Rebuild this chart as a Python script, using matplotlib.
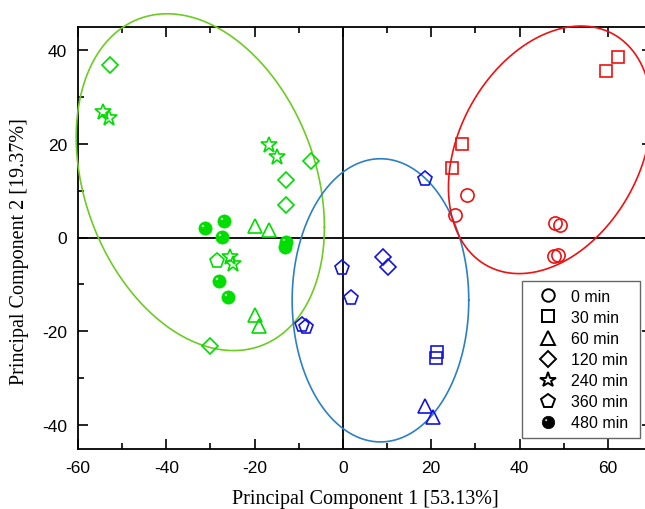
import numpy as np
import matplotlib
matplotlib.use("Agg")
import matplotlib.pyplot as plt
from matplotlib.path import Path
from matplotlib.lines import Line2D
from matplotlib.ticker import MultipleLocator

plt.rcParams['axes.unicode_minus'] = False

# ---------------- data ----------------
time_labels = ['0 min', '30 min', '60 min', '120 min', '240 min', '360 min', '480 min']

# red group
red_0_x = [28.0, 25.3, 48.0, 49.2, 47.7, 48.8]
red_0_y = [9.0, 4.7, 3.0, 2.6, -4.0, -3.8]
red_30_x = [62.3, 59.5, 27.0, 24.8]
red_30_y = [38.4, 35.5, 19.9, 14.9]

# blue group
blue_30_x = [21.3, 21.1]
blue_30_y = [-24.5, -25.6]
blue_60_x = [18.6, 20.5]
blue_60_y = [-35.9, -38.2]
blue_120_x = [9.0, 10.2]
blue_120_y = [-4.1, -6.3]
blue_360_x = [18.5, -0.2, 1.8, -9.2, -8.3]
blue_360_y = [12.5, -6.6, -13.0, -18.7, -19.0]

# green group
green_60_x = [-20.0, -16.8, -19.8, -18.9]
green_60_y = [2.4, 1.7, -16.6, -18.9]
green_120_x = [-52.7, -7.3, -13.0, -13.0, -30.0]
green_120_y = [36.8, 16.4, 12.3, 6.9, -23.1]
green_240_x = [-54.3, -53.0, -16.7, -15.0, -25.5, -24.8]
green_240_y = [26.8, 25.5, 19.8, 17.2, -4.2, -5.6]
green_360_x = [-28.5]
green_360_y = [-5.0]
green_480_x = [-31.2, -26.9, -27.4, -13.0, -13.1, -28.0, -26.1]
green_480_y = [2.1, 3.6, 0.1, -0.9, -2.0, -9.3, -12.7]

# ellipse (center, covariance-like shape) per group
ell_green_center = [-32.3, 11.8]
ell_green_cov = [[790.0, -270.0], [-270.0, 1290.0]]
ell_blue_center = [8.5, -13.4]
ell_blue_cov = [[400.0, 0.0], [0.0, 912.0]]
ell_red_center = [46.9, 18.7]
ell_red_cov = [[529.0, 185.0], [185.0, 697.0]]

# ---------------- style ----------------
C_RED = '#ee1111'
C_BLUE = '#1414dd'
C_GREEN = '#00dd00'
E_GREEN = '#6ccc22'
E_BLUE = '#2b80c4'
E_RED = '#ee1111'

# sphere marker: filled circle with small highlight hole
outer = Path.unit_circle()
th = np.linspace(0, 2 * np.pi, 40)[::-1]
hole_v = np.column_stack([-0.38 + 0.2 * np.cos(th), 0.38 + 0.2 * np.sin(th)])
hole_codes = [Path.MOVETO] + [Path.LINETO] * (len(hole_v) - 2) + [Path.CLOSEPOLY]
sphere = Path(np.vstack([outer.vertices, hole_v]),
              np.concatenate([outer.codes, hole_codes]))

marker_for = {'0 min': 'o', '30 min': 's', '60 min': '^', '120 min': 'D',
              '240 min': '*', '360 min': 'p', '480 min': sphere}
size_for = {'0 min': 9.5, '30 min': 8.5, '60 min': 10.5, '120 min': 8.3,
            '240 min': 12, '360 min': 11, '480 min': 9.5}

fig = plt.figure(figsize=(6.45, 5.10), dpi=100)
ax = fig.add_axes([78 / 645, 1 - 449.5 / 510, (652 - 78) / 645, (449.5 - 27.5) / 510])

def draw(xs, ys, label, color):
    m = marker_for[label]
    if label == '480 min':
        ax.plot(xs, ys, linestyle='none', marker=m, markersize=size_for[label],
                markerfacecolor=color, markeredgecolor=color, markeredgewidth=0.5, zorder=4)
    else:
        ax.plot(xs, ys, linestyle='none', marker=m, markersize=size_for[label],
                markerfacecolor='none', markeredgecolor=color, markeredgewidth=1.2, zorder=4)

def ellipse(center, cov, color):
    t = np.linspace(0, 2 * np.pi, 400)
    L = np.linalg.cholesky(np.array(cov))
    pts = L @ np.vstack([np.cos(t), np.sin(t)])
    ax.plot(center[0] + pts[0], center[1] + pts[1], color=color, lw=1.2, zorder=3,
            clip_on=False)

ax.axhline(0, color='black', lw=1.3, zorder=2)
ax.axvline(0, color='black', lw=1.3, zorder=2)

ellipse(ell_green_center, ell_green_cov, E_GREEN)
ellipse(ell_blue_center, ell_blue_cov, E_BLUE)
ellipse(ell_red_center, ell_red_cov, E_RED)

draw(red_0_x, red_0_y, '0 min', C_RED)
draw(red_30_x, red_30_y, '30 min', C_RED)
draw(blue_30_x, blue_30_y, '30 min', C_BLUE)
draw(blue_60_x, blue_60_y, '60 min', C_BLUE)
draw(blue_120_x, blue_120_y, '120 min', C_BLUE)
draw(blue_360_x, blue_360_y, '360 min', C_BLUE)
draw(green_60_x, green_60_y, '60 min', C_GREEN)
draw(green_120_x, green_120_y, '120 min', C_GREEN)
draw(green_240_x, green_240_y, '240 min', C_GREEN)
draw(green_360_x, green_360_y, '360 min', C_GREEN)
draw(green_480_x, green_480_y, '480 min', C_GREEN)

ax.set_xlim(-60, 70)
ax.set_ylim(-45, 45)
ax.xaxis.set_major_locator(MultipleLocator(20))
ax.xaxis.set_minor_locator(MultipleLocator(10))
ax.yaxis.set_major_locator(MultipleLocator(20))
ax.yaxis.set_minor_locator(MultipleLocator(10))
ax.tick_params(which='both', direction='in', top=True, right=True, width=1.2)
ax.tick_params(which='major', length=7, labelsize=12.5, pad=8)
ax.tick_params(which='minor', length=4)
for lab in ax.get_xticklabels() + ax.get_yticklabels():
    lab.set_fontfamily('Liberation Sans')
for s in ax.spines.values():
    s.set_linewidth(1.3)

ax.set_xlabel('Principal Component 1 [53.13%]', family='Liberation Serif', fontsize=14.5)
ax.set_ylabel('Principal Component 2 [19.37%]', family='Liberation Serif', fontsize=14.5)
ax.xaxis.set_label_coords(0.5, -0.095)
ax.yaxis.set_label_coords(-0.085, 0.468)

handles = []
for lab in time_labels:
    if lab == '480 min':
        h = Line2D([], [], linestyle='none', marker=marker_for[lab], markersize=size_for[lab] - 0.5,
                   markerfacecolor='black', markeredgecolor='black', markeredgewidth=0.5)
    else:
        h = Line2D([], [], linestyle='none', marker=marker_for[lab], markersize=size_for[lab] - 0.5,
                   markerfacecolor='none', markeredgecolor='black', markeredgewidth=1.4)
    handles.append(h)

leg = ax.legend(handles, time_labels, loc='upper left',
                bbox_to_anchor=(0.773, 0.03, 0.206, 0.367), mode='expand',
                borderaxespad=0,
                fancybox=False, edgecolor='#666666', framealpha=1,
                prop={'family': 'Liberation Sans', 'size': 11.5},
                handlelength=2.3, handletextpad=0.3, borderpad=0.5, labelspacing=0.38)
leg.get_frame().set_linewidth(1.0)

fig.savefig('out.png', dpi=100)
